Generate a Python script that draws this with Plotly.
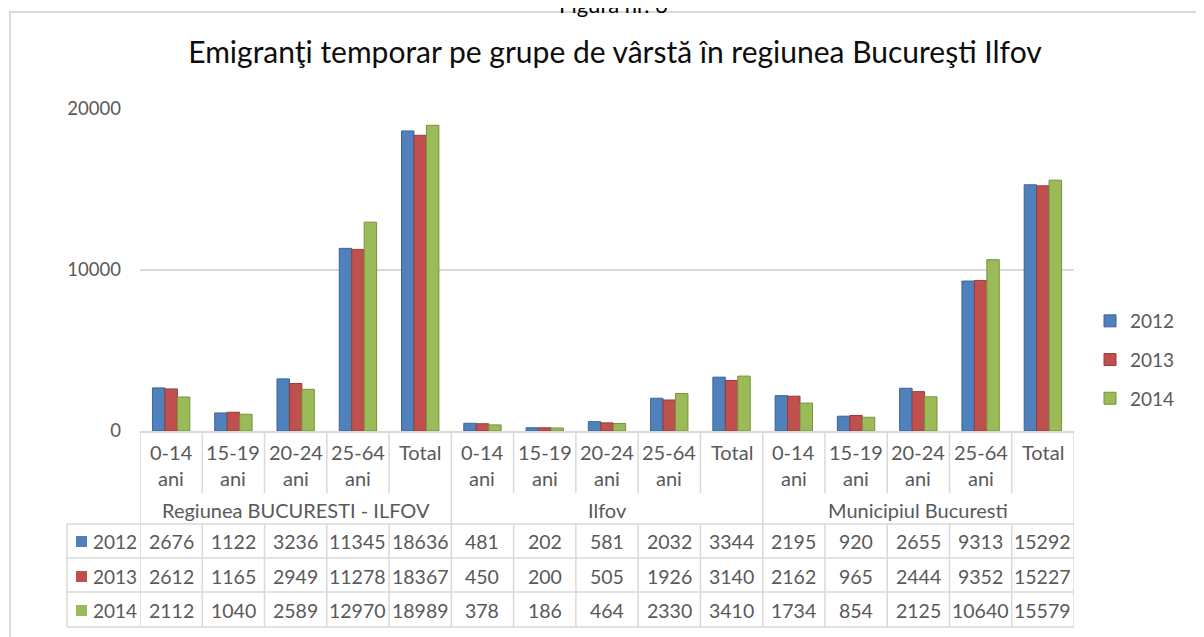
import plotly.graph_objects as go

# ---------------- data ----------------
groups = ["Regiunea BUCURESTI - ILFOV", "Ilfov", "Municipiul Bucuresti"]
ages = ["0-14 ani", "15-19 ani", "20-24 ani", "25-64 ani", "Total"]
years = ["2012", "2013", "2014"]
v2012 = [2676, 1122, 3236, 11345, 18636, 481, 202, 581, 2032, 3344, 2195, 920, 2655, 9313, 15292]
v2013 = [2612, 1165, 2949, 11278, 18367, 450, 200, 505, 1926, 3140, 2162, 965, 2444, 9352, 15227]
v2014 = [2112, 1040, 2589, 12970, 18989, 378, 186, 464, 2330, 3410, 1734, 854, 2125, 10640, 15579]
y_ticks = [0, 10000, 20000]
title_text = "Emigranţi temporar pe grupe de vârstă în regiunea Bucureşti Ilfov"
caption_text = "Figura nr. 6"

# ---------------- styling ----------------
colors = ["#4F81BD", "#C0504D", "#9BBB59"]
edges = ["#3B6597", "#963C3A", "#76923C"]
grid = "#D9D9D9"
txt = "#595959"
FONT = "Lato"
OFF = 8                      # page body margin
W, H = 1204 - OFF, 637 - OFF  # figure size
# plot area in page pixels
PL, PR, PT, PB = 140, 1074, 109, 431
L, T = PL - OFF, PT - OFF
R, B = W - (PR - OFF), H - (PB - OFF)
PW, PH = PR - PL, PB - PT


def py(p):   # page pixel y -> paper
    return (PB - p) / PH


def px(p):   # page pixel x -> paper
    return (p - PL) / PW


cats = [f"{g} | {a}" for g in groups for a in ages]
series = [v2012, v2013, v2014]

fig = go.Figure()
for yr, vals, c, e in zip(years, series, colors, edges):
    fig.add_trace(go.Bar(
        x=cats, y=vals, name=yr, legendgroup=yr,
        marker=dict(color=c, line=dict(color=e, width=1)),
    ))

ann = []
shapes = []
n = len(cats)
na = len(ages)
tfont = dict(family=FONT, size=20, color=txt)
nfont = dict(family=FONT, size=19.5, color=txt)

# category labels
for i, cat in enumerate(cats):
    age = cat.split(" | ")[1]
    for k, part in enumerate(age.split(" ")):
        ann.append(dict(x=i, y=py(452 + 26 * k), xref="x", yref="paper", text=part,
                        showarrow=False, font=tfont, xanchor="center", yanchor="middle"))
# group labels
for gi, g in enumerate(groups):
    ann.append(dict(x=gi * na + (na - 1) / 2, y=py(510), xref="x", yref="paper", text=g,
                    showarrow=False, font=tfont, xanchor="center", yanchor="middle"))
# table rows
row_y = [541, 576, 610]
for r, (yr, vals, c) in enumerate(zip(years, series, colors)):
    yc = row_y[r]
    shapes.append(dict(type="rect", xref="paper", yref="paper",
                       x0=px(76), x1=px(87), y0=py(yc - 5), y1=py(yc + 6),
                       fillcolor=c, line=dict(width=0)))
    ann.append(dict(x=px(91), y=py(yc), xref="paper", yref="paper", text=yr,
                    showarrow=False, font=dict(family=FONT, size=19, color=txt),
                    xanchor="left", yanchor="middle"))
    for i, v in enumerate(vals):
        ann.append(dict(x=i, y=py(yc), xref="x", yref="paper", text=str(v),
                        showarrow=False, font=nfont, xanchor="center", yanchor="middle"))

ln = dict(color=grid, width=1.5)
for yl in [524, 558, 592, 627]:
    shapes.append(dict(type="line", xref="paper", yref="paper", x0=px(67), x1=1.0,
                       y0=py(yl), y1=py(yl), line=ln))
shapes.append(dict(type="line", xref="paper", yref="paper", x0=px(67), x1=px(67),
                   y0=py(524), y1=py(627), line=ln))
for i in range(n + 1):
    xb = i - 0.5
    if i % na == 0:
        shapes.append(dict(type="line", xref="x", yref="paper", x0=xb, x1=xb,
                           y0=py(431), y1=py(627), line=ln))
    else:
        shapes.append(dict(type="line", xref="x", yref="paper", x0=xb, x1=xb,
                           y0=py(431), y1=py(493), line=ln))
        shapes.append(dict(type="line", xref="x", yref="paper", x0=xb, x1=xb,
                           y0=py(524), y1=py(627), line=ln))
# outer chart border
shapes.append(dict(type="rect", xref="paper", yref="paper", x0=px(10), x1=px(1225),
                   y0=py(660), y1=py(12), line=dict(color=grid, width=2)))

# page caption (cut off at the top in the source image)
ann.append(dict(x=px(613), y=py(4), xref="paper", yref="paper", text=caption_text,
                showarrow=False, font=dict(family=FONT, size=22, color="#000000"),
                xanchor="center", yanchor="middle"))

fig.update_layout(
    width=W, height=H,
    margin=dict(l=L, r=R, t=T, b=B),
    paper_bgcolor="white", plot_bgcolor="white",
    title=dict(text=title_text, x=(615 - OFF) / W, xref="container", xanchor="center",
               y=1 - (52 - OFF) / H, yref="container", yanchor="middle",
               font=dict(family=FONT, size=30, color="#0D0D0D")),
    barmode="group", bargap=0.4, bargroupgap=0,
    showlegend=True,
    legend=dict(x=px(1090), y=py(360), xanchor="left", yanchor="middle",
                font=dict(family=FONT, size=19, color=txt), tracegroupgap=11,
                bgcolor="rgba(0,0,0,0)"),
    xaxis=dict(showticklabels=False, showgrid=False, zeroline=False,
               showline=True, linecolor=grid, linewidth=1.5, ticks="",
               range=[-0.5, n - 0.5], fixedrange=True),
    yaxis=dict(range=[0, 20000], tickvals=y_ticks, tickformat="d", showgrid=True,
               gridcolor=grid, gridwidth=1.5, zeroline=False, showline=False,
               tickfont=dict(family=FONT, size=18.5, color=txt), ticklabelstandoff=18),
    annotations=ann, shapes=shapes,
    font=dict(family=FONT),
)

fig.write_html("out.html")
